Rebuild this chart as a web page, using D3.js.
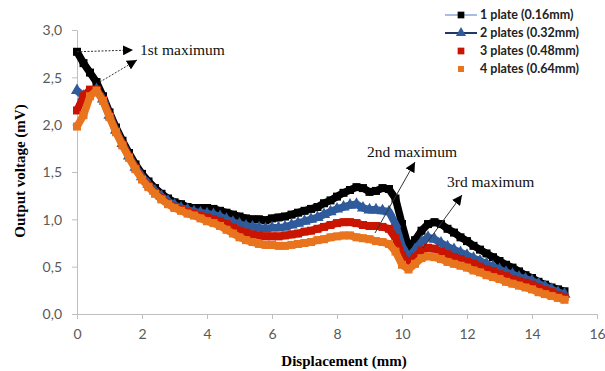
<!DOCTYPE html>
<html><head><meta charset="utf-8">
<script src="https://cdn.jsdelivr.net/npm/d3@7"></script>
<style>body{margin:0;background:#fff}svg{display:block}</style>
</head><body>
<svg id="c" width="605" height="371"></svg>
<script>
const displacement = [0.0,0.2,0.4,0.6,0.8,1.0,1.2,1.4,1.6,1.8,2.0,2.2,2.4,2.6,2.8,3.0,3.2,3.4,3.6,3.8,4.0,4.2,4.4,4.6,4.8,5.0,5.2,5.4,5.6,5.8,6.0,6.2,6.4,6.6,6.8,7.0,7.2,7.4,7.6,7.8,8.0,8.2,8.4,8.6,8.8,9.0,9.2,9.4,9.6,9.8,10.0,10.2,10.4,10.6,10.8,11.0,11.2,11.4,11.6,11.8,12.0,12.2,12.4,12.6,12.8,13.0,13.2,13.4,13.6,13.8,14.0,14.2,14.4,14.6,14.8,15.0];
const plate1 = [2.77,2.65,2.55,2.45,2.30,2.13,1.97,1.83,1.70,1.58,1.48,1.40,1.33,1.27,1.22,1.18,1.16,1.13,1.12,1.12,1.12,1.11,1.09,1.07,1.05,1.03,1.01,1.00,1.00,0.99,1.01,1.02,1.03,1.05,1.07,1.09,1.11,1.13,1.17,1.20,1.24,1.28,1.31,1.34,1.33,1.29,1.30,1.33,1.32,1.22,0.95,0.70,0.78,0.88,0.95,0.97,0.95,0.90,0.86,0.81,0.77,0.72,0.68,0.64,0.60,0.56,0.52,0.49,0.45,0.41,0.38,0.34,0.31,0.28,0.26,0.24];
const plate2 = [2.36,2.30,2.34,2.37,2.27,2.10,1.94,1.80,1.67,1.55,1.45,1.37,1.30,1.24,1.19,1.15,1.12,1.10,1.08,1.07,1.06,1.05,1.03,1.00,0.97,0.95,0.93,0.92,0.91,0.90,0.91,0.91,0.92,0.94,0.96,0.98,1.00,1.02,1.05,1.08,1.11,1.13,1.15,1.16,1.12,1.10,1.10,1.09,1.08,0.95,0.72,0.60,0.68,0.76,0.81,0.79,0.75,0.71,0.68,0.65,0.62,0.59,0.56,0.53,0.50,0.47,0.44,0.42,0.39,0.37,0.35,0.32,0.29,0.26,0.23,0.21];
const plate3 = [2.15,2.30,2.37,2.37,2.26,2.09,1.93,1.79,1.66,1.54,1.43,1.35,1.28,1.22,1.17,1.13,1.10,1.08,1.06,1.04,1.02,1.00,0.98,0.95,0.91,0.88,0.86,0.84,0.83,0.82,0.82,0.82,0.83,0.84,0.85,0.87,0.88,0.90,0.92,0.94,0.96,0.97,0.97,0.96,0.94,0.93,0.93,0.92,0.90,0.80,0.62,0.54,0.60,0.67,0.70,0.69,0.66,0.63,0.60,0.58,0.55,0.53,0.50,0.47,0.45,0.42,0.40,0.37,0.35,0.33,0.31,0.28,0.25,0.23,0.20,0.18];
const plate4 = [1.98,2.10,2.30,2.36,2.25,2.08,1.92,1.78,1.65,1.53,1.42,1.34,1.27,1.21,1.16,1.12,1.09,1.06,1.04,1.01,0.98,0.96,0.93,0.89,0.85,0.81,0.78,0.76,0.74,0.73,0.73,0.72,0.72,0.73,0.74,0.75,0.76,0.78,0.79,0.81,0.82,0.83,0.83,0.81,0.80,0.79,0.77,0.76,0.74,0.66,0.52,0.47,0.53,0.59,0.61,0.60,0.58,0.55,0.53,0.51,0.49,0.46,0.44,0.41,0.39,0.37,0.34,0.32,0.30,0.28,0.26,0.23,0.21,0.19,0.17,0.15];
const seriesNames = ["1 plate (0.16mm)","2 plates (0.32mm)","3 plates (0.48mm)","4 plates (0.64mm)"];
const xTicks = [0,2,4,6,8,10,12,14,16];
const yTicks = [0,0.5,1.0,1.5,2.0,2.5,3.0];
const xTitle = "Displacement (mm)";
const yTitle = "Output voltage (mV)";
const annotations = ["1st maximum","2nd maximum","3rd maximum"];

const colors = ["#000000","#2f5b9c","#c81400","#e8741e"];
const legendLine = ["#a9bde3","#1f3864",null,null];
const shapes = [d3.symbolSquare, d3.symbolTriangle, d3.symbolSquare, d3.symbolSquare];

const svg = d3.select("#c");
const x = d3.scaleLinear().domain([0,16]).range([77,597]);
const y = d3.scaleLinear().domain([0,3]).range([314,30]);
const fmt = d => d.toFixed(1).replace(".", ",");

const defs = svg.append("defs");
defs.append("marker").attr("id","ah").attr("viewBox","0 0 10 10").attr("refX",10).attr("refY",5)
  .attr("markerWidth",10).attr("markerHeight",10).attr("markerUnits","userSpaceOnUse").attr("orient","auto")
  .append("path").attr("d","M0,0L10,5L0,10Z").attr("fill","#000");

// axes
const gx = svg.append("g").attr("transform","translate(0,314)")
  .call(d3.axisBottom(x).tickValues(xTicks).tickSize(5).tickSizeOuter(0).tickPadding(10));
const gy = svg.append("g").attr("transform","translate(77,0)")
  .call(d3.axisLeft(y).tickValues(yTicks).tickFormat(fmt).tickSize(5).tickSizeOuter(0).tickPadding(10));
[gx,gy].forEach(g=>{
  g.selectAll("path,line").attr("stroke","#bfbfbf");
  g.selectAll("text").attr("fill","#595959").style("font-family","Lato, 'Open Sans', sans-serif").style("font-size","14px");
});
gy.selectAll("text").attr("dy","0.35em");

svg.append("text").attr("x",344).attr("y",366).attr("text-anchor","middle")
  .style("font-family","'Liberation Serif','Times New Roman',serif").style("font-weight","bold").style("font-size","15px")
  .text(xTitle);
svg.append("text").attr("transform","translate(25,171) rotate(-90)").attr("text-anchor","middle")
  .style("font-family","'Liberation Serif','Times New Roman',serif").style("font-weight","bold").style("font-size","15px")
  .text(yTitle);

// series
const all = [plate1, plate2, plate3, plate4];
const line = d3.line().x((d,i)=>x(displacement[i])).y(d=>y(d));
all.forEach((vals,k)=>{
  const g = svg.append("g");
  g.append("path").datum(vals).attr("d",line).attr("fill","none")
    .attr("stroke",colors[k]).attr("stroke-width",7.5).attr("stroke-linejoin","round");
  g.selectAll("path.m").data(vals).join("path").attr("class","m")
    .attr("transform",(d,i)=>`translate(${x(displacement[i])},${y(d)})`)
    .attr("d", d3.symbol().type(shapes[k]).size(k===1?64:64))
    .attr("fill",colors[k]);
});

// annotations
const serif = "'Liberation Serif','Times New Roman',serif";
function arrow(x1,y1,x2,y2,dash){
  svg.append("line").attr("x1",x1).attr("y1",y1).attr("x2",x2).attr("y2",y2)
    .attr("stroke","#333").attr("stroke-width",1).attr("stroke-dasharray",dash||null)
    .attr("marker-end","url(#ah)");
}
arrow(x(0), y(2.77), 133, 50, "2,1.5");
arrow(x(0.7), y(2.45), 137, 60, "2,1.5");
arrow(375, 233, 415, 162);
arrow(423, 248, 462, 195);
const ann = [[140,55],[367,157],[447,187]];
annotations.forEach((t,i)=>{
  svg.append("text").attr("x",ann[i][0]).attr("y",ann[i][1])
    .style("font-family",serif).style("font-size","15.5px").attr("fill","#111").text(t);
});

// legend
const lg = svg.append("g");
seriesNames.forEach((n,k)=>{
  const ly = 15 + k*18;
  if (legendLine[k]) lg.append("line").attr("x1",445).attr("x2",477).attr("y1",ly).attr("y2",ly)
    .attr("stroke",legendLine[k]).attr("stroke-width",2);
  lg.append("path").attr("transform",`translate(461,${ly})`)
    .attr("d", d3.symbol().type(shapes[k]).size(k===3?36:45)).attr("fill",colors[k]);
  lg.append("text").attr("x",480).attr("y",ly).attr("dy","0.35em")
    .style("font-family","Lato, sans-serif").style("font-weight","bold").style("font-size","12.5px")
    .attr("fill","#222").text(n);
});
</script>
</body></html>
